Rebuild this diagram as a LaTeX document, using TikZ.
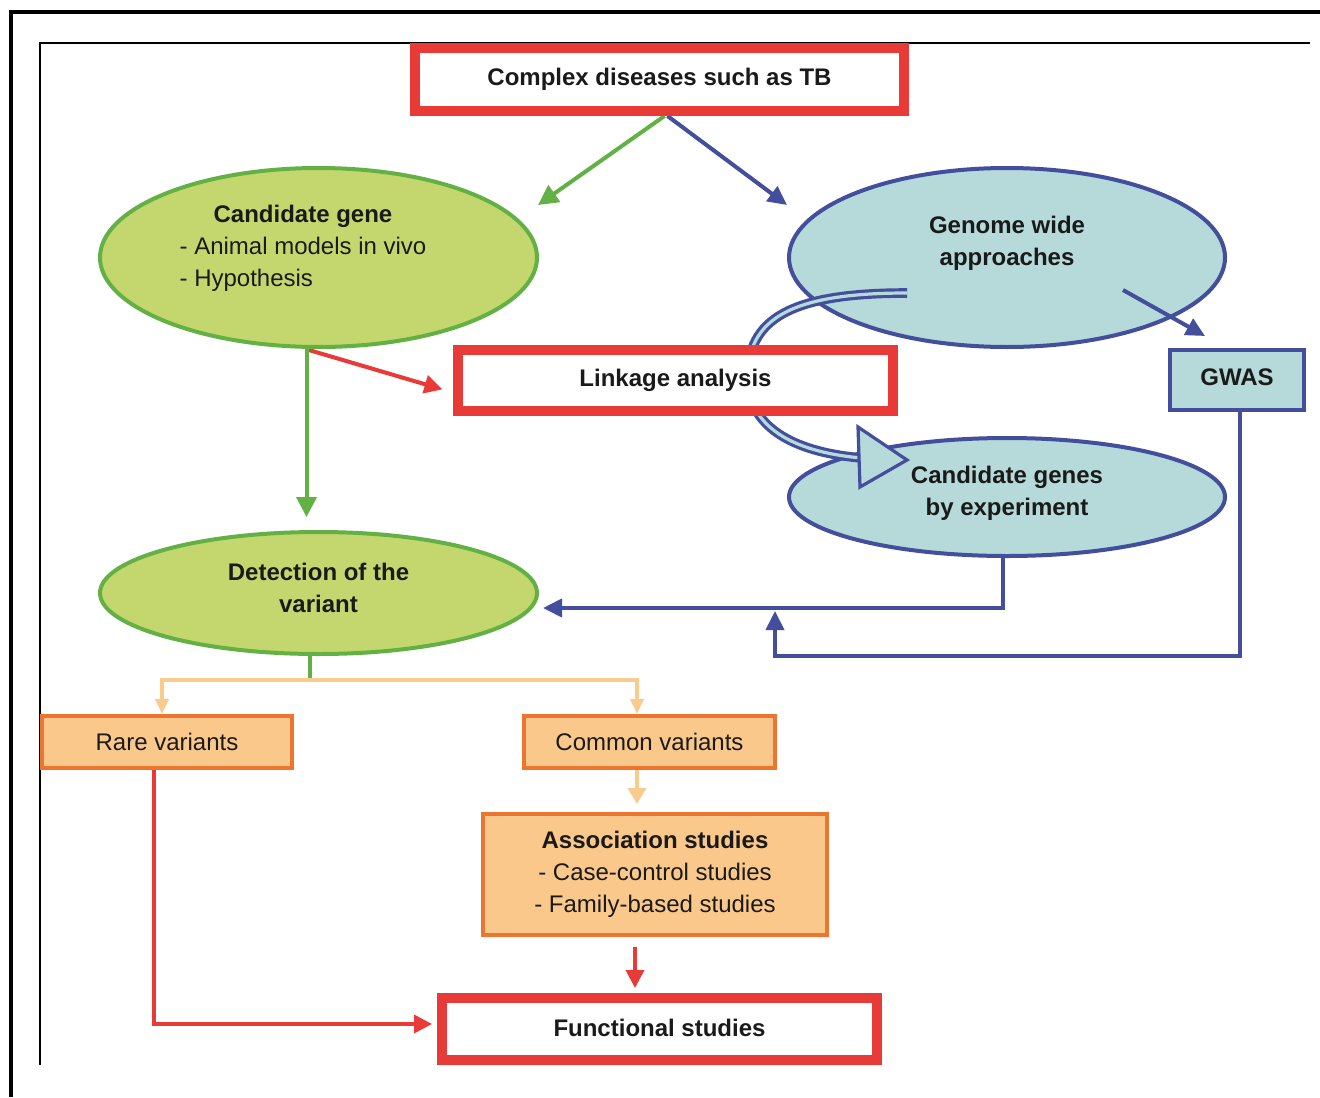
\documentclass[tikz,border=0pt]{standalone}
\usepackage{fontspec}
\setmainfont{Liberation Sans}
\usetikzlibrary{arrows.meta,shapes.geometric}
\pgfdeclarelayer{background}
\pgfsetlayers{background,main}
\definecolor{bred}{HTML}{E83B37}
\definecolor{bgreen}{HTML}{63B045}
\definecolor{lgreen}{HTML}{C4D76F}
\definecolor{bblue}{HTML}{434F9C}
\definecolor{lblue}{HTML}{B6D9DA}
\definecolor{borange}{HTML}{EC7530}
\definecolor{lorange}{HTML}{F9C88A}
\definecolor{aorange}{HTML}{F9CC8E}
\definecolor{ink}{HTML}{1A1A1A}
\newcommand\myfs{\fontsize{12}{16}\selectfont}
\tikzset{
  redbox/.style={draw=bred, line width=5pt, fill=white, inner sep=0pt, font=\myfs\bfseries, text=ink},
  ell/.style={ellipse, line width=2pt, inner sep=0pt},
  greenell/.style={ell, draw=bgreen, fill=lgreen},
  blueell/.style={ell, draw=bblue, fill=lblue},
  orbox/.style={draw=borange, fill=lorange, line width=2pt, inner sep=0pt, text=ink, font=\myfs},
  gwasbox/.style={draw=bblue, fill=lblue, line width=2pt, inner sep=0pt, font=\myfs\bfseries, text=ink},
  ttl/.style={align=center, font=\myfs\bfseries, text=ink, inner sep=0pt},
  garrow/.style={draw=bgreen, line width=2pt, -{Triangle[length=10pt,width=10pt]}},
  barrow/.style={draw=bblue, line width=2pt, -{Triangle[length=9.5pt,width=9pt]}},
  rarrow/.style={draw=bred, line width=2pt, -{Triangle[length=9pt,width=9pt]}},
  oline/.style={draw=aorange, line width=2pt},
}
\begin{document}
\begin{tikzpicture}[x=0.5pt,y=-0.5pt,font=\myfs]
\begin{pgfonlayer}{background}
\fill[white] (0,0) rectangle (1320,1097);
\end{pgfonlayer}
\useasboundingbox (0,0) rectangle (1320,1097);
% frames
\draw[line width=1.6pt] (11,1097) -- (11,12) -- (1320,12);
\draw[line width=0.7pt] (40,1065) -- (40,43) -- (1310,43);

% top box
\node[redbox, minimum width=244.5pt, minimum height=31.5pt] (top) at (659.5,79.5) {Complex diseases such as TB};

% ellipses
\node[greenell, minimum width=218.5pt, minimum height=89.5pt] (cg) at (318.5,257.5) {};
\node[text=ink, inner sep=0pt] (cgt) at (303,248) {\begin{tabular}{@{}l@{}}\multicolumn{1}{@{}c@{}}{\textbf{Candidate gene}}\\- Animal models in vivo\\- Hypothesis\end{tabular}};
\node[blueell, minimum width=218pt, minimum height=89.5pt] (gw) at (1007,257.5) {};
\node[ttl] (gwt) at (1007,243) {Genome wide\\approaches};
\node[blueell, minimum width=218pt, minimum height=59pt] (cge) at (1007,497) {};
\node[greenell, minimum width=218.5pt, minimum height=61pt] (det) at (318.5,593) {};
\node[ttl] (dett) at (318.5,588) {Detection of the\\variant};

% double curved arrow
\coordinate (dstart) at (907,293);
\coordinate (dend) at (862,458);
\draw[bblue, line width=1.6pt, double=lblue, double distance=1.6pt]
  (dstart) .. controls (792,293) and (746,318) .. (748,380)
  .. controls (749,425) and (790,452) .. (dend);
\draw[bblue, line width=1.6pt, fill=lblue, line join=miter] (858,427) -- (907,460) -- (860,487) -- cycle;
\node[ttl] (cget) at (1007,493) {Candidate genes\\by experiment};

% boxes
\node[redbox, minimum width=217.5pt, minimum height=30.5pt] (lk) at (675.5,380.5) {Linkage analysis};
\node[gwasbox, minimum width=67pt, minimum height=30pt] (gwas) at (1237,380) {\raisebox{2.5pt}{GWAS}};
\node[orbox, minimum width=125pt, minimum height=26pt] (rare) at (167,742) {Rare variants};
\node[orbox, minimum width=125.5pt, minimum height=26pt] (common) at (649.5,742) {Common variants};
\node[orbox, minimum width=172pt, minimum height=60.5pt, align=center] (assoc) at (655,874.5) {\textbf{Association studies}\\- Case-control studies\\- Family-based studies};
\node[redbox, minimum width=217.5pt, minimum height=31pt] (func) at (659.5,1029) {\raisebox{1pt}{Functional studies}};

% coordinates
\coordinate (cgin) at (538,205);
\coordinate (gwin) at (787,205);
\coordinate (gwsrc) at (1123,290);
\coordinate (gwtip) at (1205,336);
\coordinate (merge) at (775,611);
\coordinate (split) at (310,680);

% connectors behind nodes
\begin{pgfonlayer}{background}
\draw[garrow] ([xshift=2.5pt]top.south) -- (cgin);
\draw[barrow] ([xshift=4pt]top.south) -- (gwin);
\draw[rarrow, shorten >=5.5pt] ([xshift=-6.5pt]cg.south) -- ([yshift=-6pt]lk.west);
\draw[garrow, shorten >=6.5pt] ([xshift=-6pt]cg.south) -- ([xshift=-6pt]det.north);
\draw[barrow, shorten >=0.5pt] ([xshift=-2pt]cge.south) |- ([yshift=-7.5pt,xshift=1.5pt]det.east);
\draw[barrow] ([xshift=1.5pt]gwas.south) |- (775,656) -- (merge);
\draw[draw=bgreen, line width=2pt] ([xshift=-4.25pt]det.south) -- (split);
\draw[oline, {Triangle[length=7.5pt,width=6.5pt]}-{Triangle[length=7.5pt,width=6.5pt]}]
  ([xshift=-2.5pt]rare.north) |- (split) -| ([xshift=-6.25pt]common.north);
\draw[oline, -{Triangle[length=8pt,width=9pt]}, shorten >=4pt] ([xshift=-6.25pt]common.south) -- ([xshift=-9pt]assoc.north);
\draw[rarrow, line width=1.8pt, shorten <=5pt, shorten >=2.5pt] ([xshift=-10pt]assoc.south) -- ([xshift=-12.25pt]func.north);
\draw[rarrow, line width=1.8pt, shorten >=2.5pt] ([xshift=-6.5pt]rare.south) |- ([yshift=2.5pt]func.west);
\end{pgfonlayer}

% arrow inside genome ellipse
\draw[barrow] (gwsrc) -- (gwtip);
\end{tikzpicture}
\end{document}
